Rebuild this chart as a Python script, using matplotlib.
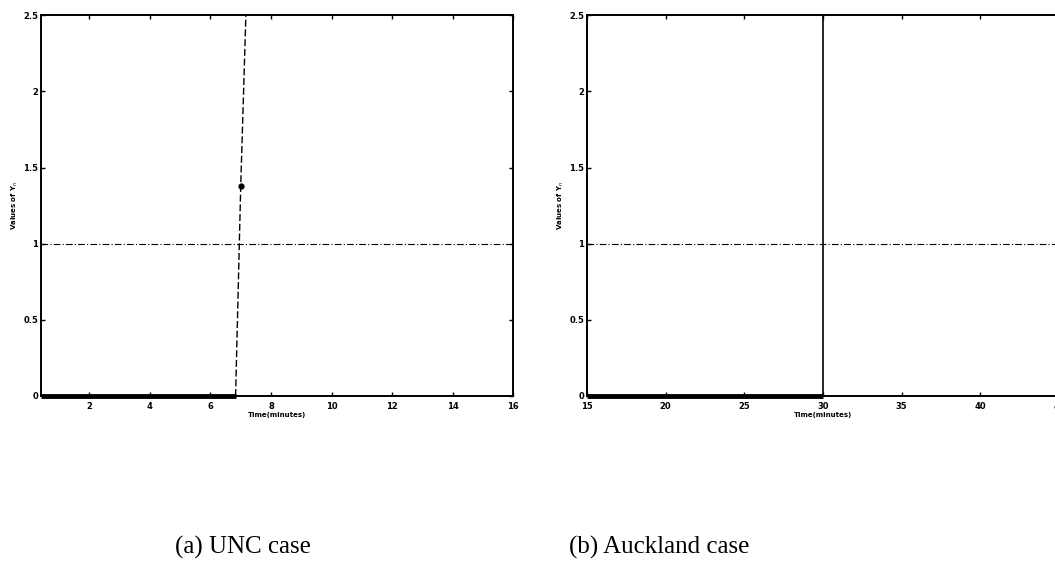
import matplotlib
matplotlib.use("Agg")
import matplotlib.pyplot as plt

# (a) UNC case
unc_flat_t = [0.4, 6.83]
unc_flat_v = [0.0, 0.0]
unc_rise_t = [6.83, 7.0, 7.17]
unc_rise_v = [0.0, 1.38, 2.5]
unc_xlim = (0.4, 16)
unc_xticks = [2, 4, 6, 8, 10, 12, 14, 16]

# (b) Auckland case
akl_flat_t = [15, 30]
akl_flat_v = [0.0, 0.0]
akl_rise_t = [30, 30]
akl_rise_v = [0.0, 2.5]
akl_xlim = (15, 45)
akl_xticks = [15, 20, 25, 30, 35, 40, 45]

threshold = 1.0
yticks = [0, 0.5, 1, 1.5, 2, 2.5]
ytick_labels = ['0', '0.5', '1', '1.5', '2', '2.5']
captions = ['(a) UNC case', '(b) Auckland case']

fig = plt.figure(figsize=(10.55, 5.7), dpi=100)
ax1 = fig.add_axes([0.0389, 0.3053, 0.4474, 0.668])
ax2 = fig.add_axes([0.5564, 0.3053, 0.4474, 0.668])


def style_axes(ax, xlim, xticks):
    ax.set_xlim(*xlim)
    ax.set_ylim(0, 2.5)
    ax.set_xticks(xticks)
    ax.set_xticklabels([str(t) for t in xticks], fontsize=6, fontweight='bold')
    ax.set_yticks(yticks)
    ax.set_yticklabels(ytick_labels, fontsize=6, fontweight='bold')
    ax.tick_params(direction='in', length=3, width=1, top=True, right=True)
    ax.tick_params(axis='x', pad=4)
    ax.tick_params(axis='y', pad=2)
    for sp in ax.spines.values():
        sp.set_linewidth(1.4)
    ax.set_xlabel('Time(minutes)', fontsize=5, fontweight='bold', labelpad=1)
    ax.set_ylabel('Values of Y$_n$', fontsize=5, fontweight='bold', labelpad=2)
    ax.axhline(threshold, color='black', lw=0.8, ls='-.', dashes=(6, 2, 1, 2))


ax1.plot(unc_flat_t, unc_flat_v, color='black', lw=3.5, solid_capstyle='butt', clip_on=False)
ax1.plot(unc_rise_t, unc_rise_v, color='black', lw=1.0, ls='--', dashes=(5, 2))
ax1.plot(unc_rise_t[1], unc_rise_v[1], 'o', color='black', ms=3.5)
style_axes(ax1, unc_xlim, unc_xticks)

ax2.plot(akl_flat_t, akl_flat_v, color='black', lw=3.5, solid_capstyle='butt', clip_on=False)
ax2.plot(akl_rise_t, akl_rise_v, color='black', lw=1.2)
style_axes(ax2, akl_xlim, akl_xticks)

fig.text(0.230, 0.028, captions[0], fontsize=18, family='Liberation Serif', ha='center')
fig.text(0.625, 0.028, captions[1], fontsize=18, family='Liberation Serif', ha='center')

fig.savefig('out.png', dpi=100)
